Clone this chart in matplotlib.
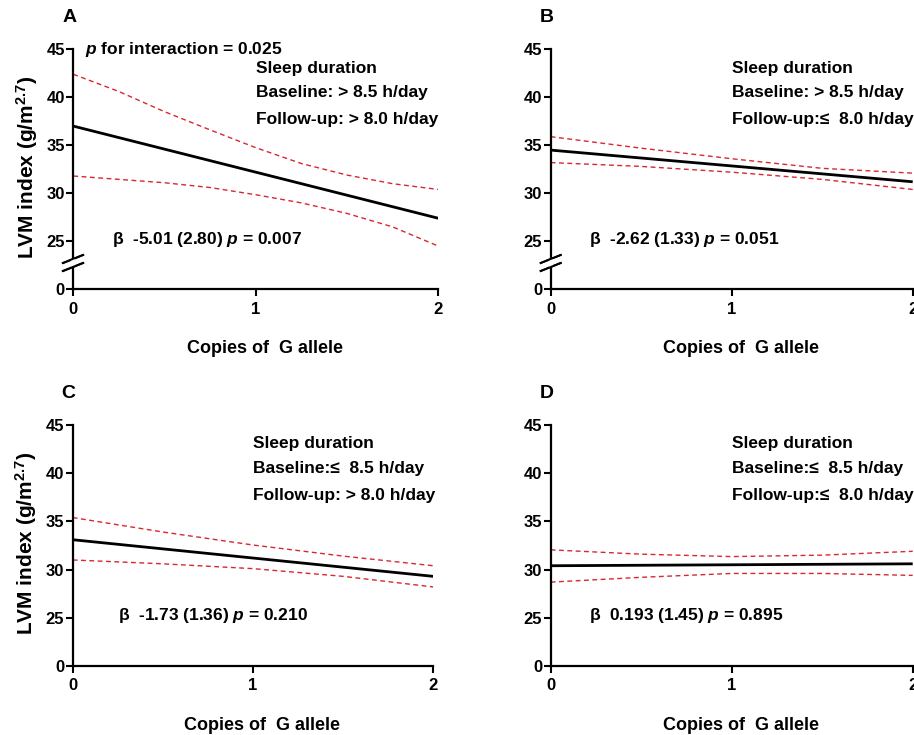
import numpy as np
import matplotlib
matplotlib.use("Agg")
import matplotlib.pyplot as plt

plt.rcParams['font.family'] = ['Liberation Sans', 'DejaVu Sans']
plt.rcParams['font.weight'] = 'bold'
plt.rcParams['axes.labelweight'] = 'bold'
plt.rcParams['mathtext.fontset'] = 'custom'
plt.rcParams['mathtext.rm'] = 'Liberation Sans:bold'
plt.rcParams['mathtext.bf'] = 'Liberation Sans:bold'
plt.rcParams['mathtext.it'] = 'Liberation Sans:italic:bold'
plt.rcParams['mathtext.bfit'] = 'Liberation Sans:italic:bold'

# data
x_fit = [0, 2]
x_ci_a = [0, 0.25, 0.5, 0.75, 1, 1.25, 1.5, 1.75, 2]
x_ci = [0, 0.5, 1, 1.5, 2]

fit_a = [37.0, 27.4]
upper_a = [42.4, 40.6, 38.5, 36.6, 34.75, 33.1, 31.9, 31.0, 30.4]
lower_a = [31.8, 31.45, 31.1, 30.6, 29.85, 29.0, 27.9, 26.5, 24.5]

fit_b = [34.5, 31.2]
upper_b = [35.9, 34.7, 33.6, 32.6, 32.1]
lower_b = [33.2, 32.8, 32.2, 31.45, 30.4]

fit_c = [33.1, 29.3]
upper_c = [35.4, 33.9, 32.55, 31.4, 30.4]
lower_c = [31.0, 30.6, 30.1, 29.3, 28.2]

fit_d = [30.4, 30.6]
upper_d = [32.05, 31.6, 31.35, 31.5, 31.9]
lower_d = [28.7, 29.2, 29.6, 29.6, 29.4]

letters = ['A', 'B', 'C', 'D']
baseline = ['Baseline: > 8.5 h/day', 'Baseline: > 8.5 h/day',
            'Baseline:\u2264  8.5 h/day', 'Baseline:\u2264  8.5 h/day']
followup = ['Follow-up: > 8.0 h/day', 'Follow-up:\u2264  8.0 h/day',
            'Follow-up: > 8.0 h/day', 'Follow-up:\u2264  8.0 h/day']
beta_txt = ['\u03b2  -5.01 (2.80) $\\mathit{p}$ = 0.007',
            '\u03b2  -2.62 (1.33) $\\mathit{p}$ = 0.051',
            '\u03b2  -1.73 (1.36) $\\mathit{p}$ = 0.210',
            '\u03b2  0.193 (1.45) $\\mathit{p}$ = 0.895']
x_cis = [x_ci_a, x_ci, x_ci, x_ci]
fits = [fit_a, fit_b, fit_c, fit_d]
uppers = [upper_a, upper_b, upper_c, upper_d]
lowers = [lower_a, lower_b, lower_c, lower_d]

y_ticks = [0, 25, 30, 35, 40, 45]
x_ticks = [0, 1, 2]


# broken y axis: linear above 22.5, compressed below
def fwd(v):
    v = np.asarray(v, dtype=float)
    return np.where(v >= 22.5, v, 20 + v / 9.0)


def inv(u):
    u = np.asarray(u, dtype=float)
    return np.where(u >= 22.5, u, (u - 20) * 9.0)


fig = plt.figure(figsize=(9.14, 7.35), dpi=100)
W, H = 914, 735
boxes = [(73.3, 438.3, 49.3, 289.3), (550.7, 912.7, 49.3, 289.3),
         (72.7, 433.3, 425, 666), (550.7, 912.7, 425, 666)]

red = '#d8282e'
for i, (l, r, t, b) in enumerate(boxes):
    ax = fig.add_axes([l / W, 1 - b / H, (r - l) / W, (b - t) / H])
    ax.set_yscale('function', functions=(fwd, inv))
    ax.plot(x_cis[i], uppers[i], color=red, lw=1.0, ls=(0, (3.5, 2.5)))
    ax.plot(x_cis[i], lowers[i], color=red, lw=1.0, ls=(0, (3.5, 2.5)))
    ax.plot(x_fit, fits[i], color='black', lw=2.0, solid_capstyle='butt')
    ax.set_xlim(0, 2)
    ax.set_ylim(0, 45)
    ax.set_yticks(y_ticks)
    ax.set_yticklabels([str(v) for v in y_ticks])
    ax.set_xticks(x_ticks)
    ax.minorticks_off()
    for s in ['top', 'right']:
        ax.spines[s].set_visible(False)
    for s in ['left', 'bottom']:
        ax.spines[s].set_linewidth(1.6)
    ax.tick_params(axis='y', length=5, width=1.5, pad=1, labelsize=12)
    ax.tick_params(axis='x', length=5, width=1.5, pad=4, labelsize=12)

    # axis break marks
    wpx, hpx = r - l, b - t
    yb = (b - 263) / hpx
    dx, dy = 10 / wpx, 4 / hpx
    ax.add_patch(plt.Rectangle((-2 / wpx, yb - dy), 4 / wpx, 2 * dy, transform=ax.transAxes,
                               facecolor='white', edgecolor='none', clip_on=False, zorder=5))
    for off in (-dy, dy):
        ax.plot([-dx, dx], [yb + off - dy, yb + off + dy], color='black', lw=1.4,
                transform=ax.transAxes, clip_on=False, zorder=6)

    ax.text(1.0, 43.0 if i < 2 else 43.1, 'Sleep duration', fontsize=12.5, va='center')
    ax.text(1.0, 40.45, baseline[i], fontsize=12.5, va='center')
    ax.text(1.0, 37.7, followup[i], fontsize=12.5, va='center')
    ax.text(0.21 if i != 2 else 0.25, 25.2, beta_txt[i], fontsize=12.5, va='center')

    ax.set_xlabel('Copies of  G allele', fontsize=13, va='center')
    ax.xaxis.set_label_coords(0.525, -0.245)
    if i in (0, 2):
        ax.set_ylabel('LVM index (g/m$^{2.7}$)', fontsize=15, va='center')
        ax.yaxis.set_label_coords(-0.128, 0.51)

    fig.text((l - 11) / W, 1 - (17 if i < 2 else 393) / H, letters[i],
             fontsize=14, fontweight='bold', va='center')

fig.axes[0].text(0.064, 45.0, '$\\mathit{p}$ for interaction = 0.025', fontsize=12.5,
                 va='center')

fig.savefig('out.png', dpi=100)
